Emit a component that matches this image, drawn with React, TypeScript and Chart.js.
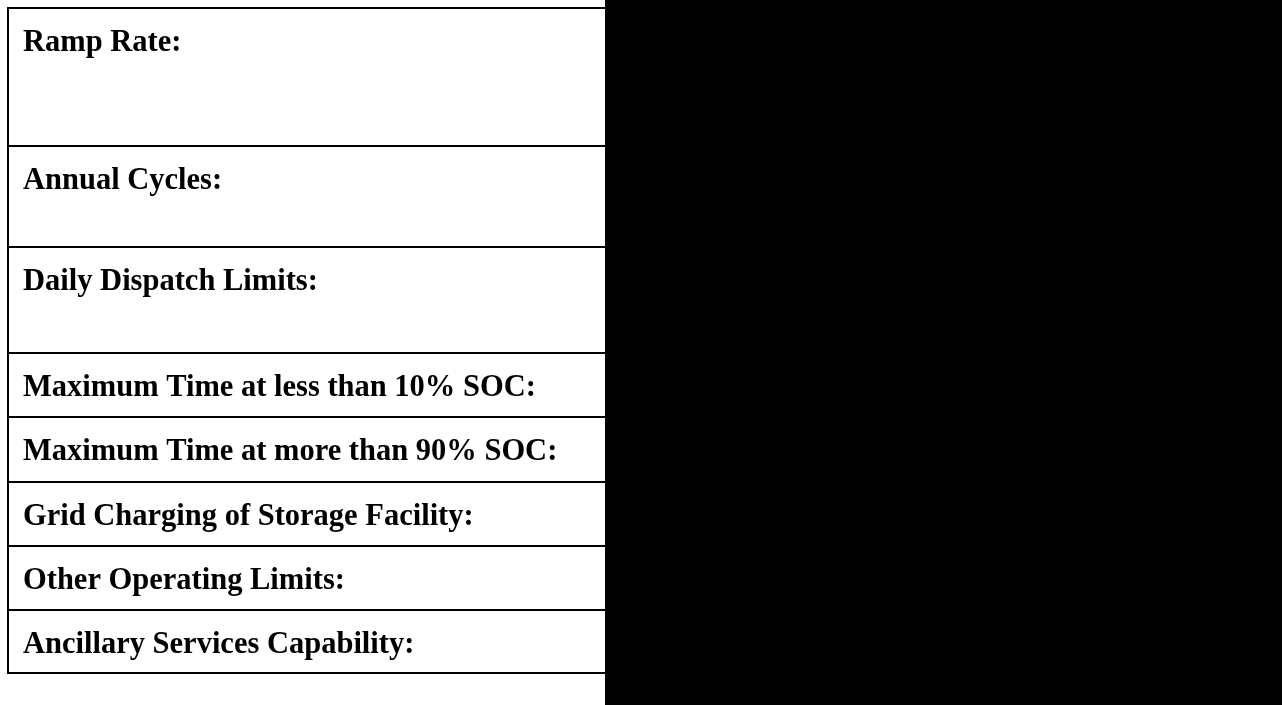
import React, { useEffect, useRef } from "react";
import { Chart, registerables } from "chart.js";

Chart.register(...registerables);

// Table content
const rowLabels: string[] = [
  "Ramp Rate:",
  "Annual Cycles:",
  "Daily Dispatch Limits:",
  "Maximum Time at less than 10% SOC:",
  "Maximum Time at more than 90% SOC:",
  "Grid Charging of Storage Facility:",
  "Other Operating Limits:",
  "Ancillary Services Capability:",
];
// row heights (px units)
const rowHeights: number[] = [138, 101, 106, 64, 65, 64, 64, 63];

const W = 1282;
const H = 705;
const TABLE_LEFT = 8;
const TABLE_TOP = 8;
const MASK_LEFT = 605;
const TEXT_X = 23;
const BASELINE_OFFSET = 43;

export default function App() {
  const ref = useRef<HTMLCanvasElement | null>(null);

  useEffect(() => {
    if (!ref.current) return;
    const bounds: number[] = [TABLE_TOP];
    rowHeights.forEach((h) => bounds.push(bounds[bounds.length - 1] + h));
    const bottom = bounds[bounds.length - 1];

    const lineDs = bounds.map((b) => ({
      type: "scatter" as const,
      data: [
        { x: TABLE_LEFT - 1, y: b },
        { x: MASK_LEFT + 2, y: b },
      ],
      showLine: true,
      borderColor: "#000",
      borderWidth: 2,
      pointRadius: 0,
      order: 2,
    }));
    const leftDs = {
      type: "scatter" as const,
      data: [
        { x: TABLE_LEFT, y: TABLE_TOP - 1 },
        { x: TABLE_LEFT, y: bottom + 1 },
      ],
      showLine: true,
      borderColor: "#000",
      borderWidth: 2,
      pointRadius: 0,
      order: 2,
    };
    const maskDs = {
      type: "scatter" as const,
      data: [
        { x: MASK_LEFT, y: -5 },
        { x: W + 5, y: -5 },
        { x: W + 5, y: H + 5 },
        { x: MASK_LEFT, y: H + 5 },
        { x: MASK_LEFT, y: -5 },
      ],
      showLine: true,
      borderColor: "#000",
      borderWidth: 0,
      backgroundColor: "#000",
      fill: "shape",
      pointRadius: 0,
      order: 0,
    };

    const labelPlugin = {
      id: "rowLabels",
      afterDatasetsDraw(chart: any) {
        const ctx = chart.ctx;
        const xs = chart.scales.x;
        const ys = chart.scales.y;
        ctx.save();
        ctx.fillStyle = "#000";
        ctx.font = "bold 30.5px 'Liberation Serif', 'Times New Roman', serif";
        ctx.textBaseline = "alphabetic";
        ctx.textAlign = "left";
        rowLabels.forEach((lab, i) => {
          ctx.fillText(
            lab,
            xs.getPixelForValue(TEXT_X),
            ys.getPixelForValue(bounds[i] + BASELINE_OFFSET)
          );
        });
        ctx.restore();
      },
    };

    const chart = new Chart(ref.current, {
      type: "scatter",
      data: { datasets: [maskDs, leftDs, ...lineDs] as any },
      options: {
        animation: false,
        responsive: false,
        events: [],
        layout: { padding: 0 },
        plugins: { legend: { display: false }, tooltip: { enabled: false } },
        scales: {
          x: { type: "linear", min: 0, max: W, display: false },
          y: { type: "linear", min: 0, max: H, reverse: true, display: false },
        },
      },
      plugins: [labelPlugin],
    });
    return () => chart.destroy();
  }, []);

  return (
    <div
      style={{
        position: "absolute",
        left: 0,
        top: 0,
        width: W,
        height: H,
        background: "#fff",
        overflow: "hidden",
      }}
    >
      <canvas ref={ref} width={W} height={H} style={{ display: "block" }} />
    </div>
  );
}
